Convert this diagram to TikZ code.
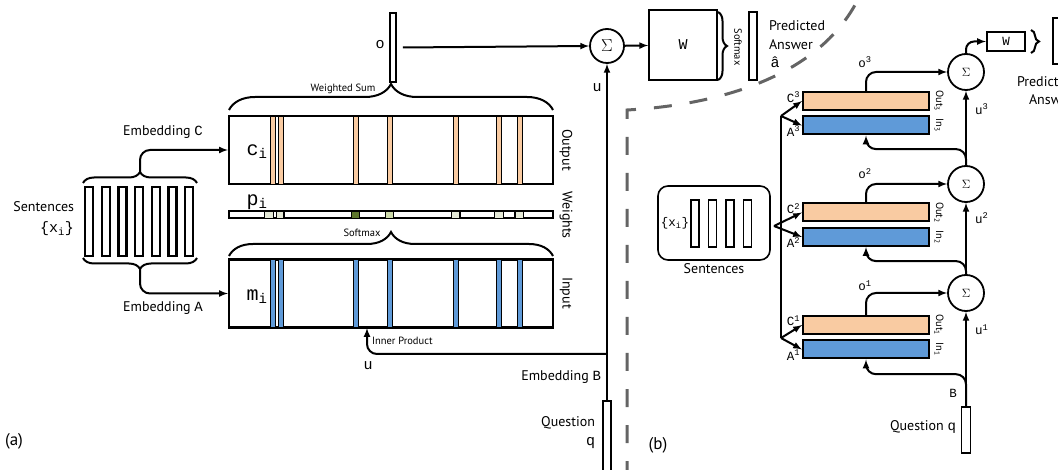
\documentclass[tikz,border=0pt]{standalone}
\usepackage{fontspec}
\setmainfont{PT Sans}
\setmonofont{Liberation Mono}
\usetikzlibrary{decorations.pathreplacing}
\definecolor{peach}{RGB}{249,203,162}
\definecolor{memblue}{RGB}{95,154,216}
\definecolor{wdark}{RGB}{94,118,44}
\definecolor{wmid}{RGB}{205,218,170}
\definecolor{wlight}{RGB}{228,232,214}
\definecolor{sepgray}{RGB}{100,100,100}
\tikzset{
  txt/.style={font=\fontsize{14}{16}\selectfont, inner sep=1pt},
  small/.style={font=\fontsize{10.5}{12}\selectfont, inner sep=1pt},
  mono/.style={font=\ttfamily\fontsize{15}{17}\selectfont, inner sep=1pt},
  smono/.style={font=\ttfamily\fontsize{12.5}{14}\selectfont, inner sep=1pt},
  bigmono/.style={font=\ttfamily\fontsize{20}{22}\selectfont, inner sep=1pt},
  bar/.style={draw, line width=2.2pt, fill=white, inner sep=0},
  memrow/.style={draw, line width=2.2pt, fill=white, minimum width=324, minimum height=68, inner sep=0},
  outbox/.style={draw, line width=2pt, fill=peach, minimum width=126, minimum height=18, inner sep=0},
  inbox/.style={draw, line width=2pt, fill=memblue, minimum width=126, minimum height=18, inner sep=0},
  sumnode/.style={draw, circle, line width=1.8pt, inner sep=0},
  curly/.style={decorate, decoration={brace, amplitude=#1}, line width=2pt},
}
\begin{document}
\begin{tikzpicture}[x=1pt, y=-1pt, >=latex, line width=2pt]
\useasboundingbox (0,0) rectangle (1058,470);
\clip (0,0) rectangle (1058,470);

% (a) single layer
\foreach \i in {0,...,6}
  \node[bar, minimum width=8, minimum height=69] (xa\i) at (89+16.7*\i,221.5) {};
\node[txt, anchor=east] (senta) at (76,207) {Sentences};
\node[mono, anchor=east] (xia) at (76,229) {\{x\textsubscript{i}\}};
\draw[curly=11] (83,183) -- (197,183);
\draw[curly=11] (197,258) -- (83,258);
\coordinate (tipc) at (140,172);
\coordinate (tipa) at (140,269);

\node[memrow] (cbox) at (391,150) {};
\node[memrow] (mbox) at (391,293.5) {};
\foreach \x in {270.7,278.3,353.3,387.3,453.3,496.7,517.3} {
  \draw[fill=peach, line width=.8pt] (\x,116) rectangle ++(5,68);
  \draw[fill=memblue, line width=.8pt] (\x,259.5) rectangle ++(5,68);
}
\node[bigmono] (clab) at (257,152) {c\textsubscript{i}};
\node[bigmono] (mlab) at (257,297) {m\textsubscript{i}};
\node[bigmono] (plab) at (257,202) {p\textsubscript{i}};

\node[draw, line width=1.4pt, minimum width=324, minimum height=7, inner sep=0] (pbar) at (391,214.5) {};
\foreach \a/\b/\c in {264/273/wlight, 276/283/wlight, 351.7/359.3/wdark, 385/393/wmid,
    451.7/459.3/wlight, 494/503/wlight, 515.7/523.3/wlight}
  \draw[fill=\c, line width=.7pt] (\a,211) rectangle (\b,218);
\foreach \x in {284,460,515}
  \draw[line width=2pt] (\x,211) -- (\x,218);

\node[txt, rotate=-90] (outlab) at (566,150) {Output};
\node[txt, rotate=-90] (wtlab) at (566,215) {Weights};
\node[txt, rotate=-90] (inlab) at (566,293) {Input};

\draw[->, rounded corners=10] (tipc) |- (cbox.west);
\draw[->, rounded corners=10] (tipa) |- (mbox.west);
\node[txt] (embc) at (163,132) {Embedding \texttt{C}};
\node[txt] (emba) at (163,308) {Embedding \texttt{A}};

\draw[curly=24] (229,256) -- (553,256);
\node[small] (smx) at (362,233) {Softmax};
\draw[curly=26] (229,110) -- (553,110);
\node[small] (wsum) at (343,89) {Weighted Sum};

\node[bar, line width=1.6pt, minimum width=6, minimum height=69] (obar) at (393,47.5) {};
\node[mono] (olab) at (380,45) {o};
\node[sumnode, minimum size=34, font=\fontsize{16}{18}\selectfont] (suma) at (607,46) {$\Sigma$};
\draw[->] ([xshift=6]obar.east) -- (suma.west);
\node[draw, line width=1.6pt, minimum width=68, minimum height=70, inner sep=0, mono] (wa) at (683,45) {W};
\draw[->] (suma) -- (wa);
\draw[curly=9] (718,12) -- (718,80);
\node[small, rotate=-90] (smxa) at (738,47) {Softmax};
\node[bar, line width=1.6pt, minimum width=8, minimum height=68] (ansa) at (753,46) {};
\node[txt, anchor=west] (preda) at (767,26) {Predicted};
\node[txt, anchor=west] (answa) at (767,45) {Answer};
\node[mono] (ahat) at (775,62) {\^{a}};

\node[bar, line width=1.6pt, minimum width=8, minimum height=80] (qa) at (607,441) {};
\draw[->] (qa.north) -- (suma.south);
\node[mono] (ulab) at (597,88) {u};
\coordinate (ipa) at (607,354);
\coordinate (ipend) at (367,328);
\draw[->, rounded corners=10] (ipa) -| (ipend);
\node[small, anchor=west] (inner) at (370,341) {Inner Product};
\node[mono] (ulab2) at (368,366) {u};
\node[txt, anchor=east] (embb) at (603,377) {Embedding \texttt{B}};
\node[txt, anchor=east] (qlab) at (597,423) {Question};
\node[mono, anchor=east] (qsym) at (597,443) {q};
\node[font=\fontsize{17}{19}\selectfont] (lbla) at (14,441) {(a)};

% separator
\draw[sepgray, line width=3pt, dash pattern=on 18pt off 18pt]
  (627,479) -- (627,110) .. controls (700,106) and (810,85) .. (855,5);

% (b) three layers
\node[draw, rounded corners=10, line width=1.6pt, minimum width=112, minimum height=74] (sentb) at (714,223) {};
\node[smono] (xib) at (675,223) {\{x\textsubscript{i}\}};
\foreach \i in {0,...,3}
  \node[bar, line width=1.6pt, minimum width=8, minimum height=47] (xb\i) at (695+17.5*\i,223.5) {};
\node[txt] (sentlab) at (714,269) {Sentences};

\foreach \k/\y/\s in {3/101/72, 2/212.5/184, 1/325/293} {
  \node[outbox] (C\k) at (866,\y) {};
  \node[inbox] (A\k) at (866,\y+24.5) {};
  \node[smono, anchor=east] at (802,\y-4) {C\textsuperscript{\k}};
  \node[smono, anchor=east] at (802,\y+30) {A\textsuperscript{\k}};
  \node[small, rotate=-90] at (939,\y) {Out\textsubscript{\k}};
  \node[small, rotate=-90] at (939,\y+24.5) {In\textsubscript{\k}};
  \node[sumnode, minimum size=36, font=\fontsize{12}{14}\selectfont] (s\k) at (966,\s) {$\Sigma$};
  \draw[->, rounded corners=10] (C\k.north) |- (s\k.west);
  \node[smono] at (865,\y-39) {o\textsuperscript{\k}};
}
\coordinate (fk3) at (781,116);
\coordinate (fk2) at (774,226);
\coordinate (fk1) at (781,338);
\draw (fk3) -- (fk1);
\foreach \k in {1,2,3} {
  \draw[->] (fk\k) -- (C\k.west);
  \draw[->] (fk\k) -- (A\k.west);
}

\node[bar, line width=1.6pt, minimum width=9, minimum height=46] (qb) at (966,430) {};
\draw[->] (qb.north) -- (s1.south);
\draw[->] (s1.north) -- (s2.south);
\draw[->] (s2.north) -- (s3.south);
\draw[->, rounded corners=10] (qb.north) -- ++(0,-32) -| (A1.south);
\draw[->, rounded corners=10] (s1.north) -- ++(0,-13) -| (A2.south);
\draw[->, rounded corners=10] (s2.north) -- ++(0,-16) -| (A3.south);
\node[smono, anchor=west] (u3) at (973,109) {u\textsuperscript{3}};
\node[smono, anchor=west] (u2) at (973,218) {u\textsuperscript{2}};
\node[smono, anchor=west] (u1) at (973,330) {u\textsuperscript{1}};
\node[smono] (blab) at (953,393) {B};
\node[txt, anchor=east] (qlabb) at (958,427) {Question \texttt{q}};

\node[draw, line width=2pt, minimum width=38, minimum height=19, inner sep=0, smono] (wb) at (1006,41.5) {W};
\draw[->, rounded corners=8] (s3.north) |- (wb.west);
\draw[curly=8] (1031,30) -- (1031,53);
\node[bar, line width=1.6pt, minimum width=16, minimum height=46] (ansb) at (1061,41) {};
\node[txt, anchor=west] (predb) at (1015,82) {Predicted};
\node[txt, anchor=west] (answb) at (1027,100) {Answer};
\node[font=\fontsize{17}{19}\selectfont] (lblb) at (658,445) {(b)};
\end{tikzpicture}
\end{document}
